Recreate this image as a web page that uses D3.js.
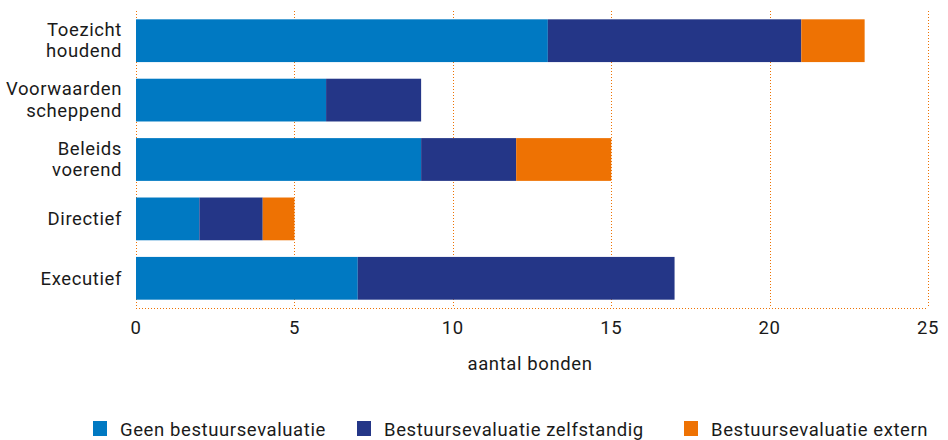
<!DOCTYPE html>
<html>
<head>
<meta charset="utf-8">
<script src="https://cdn.jsdelivr.net/npm/d3@7"></script>
<style>
  body { margin: 0; background: #fff; }
  text { font-family: "Roboto", "Liberation Sans", sans-serif; fill: #1a1a1a; letter-spacing: 0.6px; }
</style>
</head>
<body>
<svg id="chart" width="948" height="440"></svg>
<script>
'use strict'

const categories = ["Toezicht houdend", "Voorwaarden scheppend", "Beleids voerend", "Directief", "Executief"]
const categoryLines = [["Toezicht","houdend"], ["Voorwaarden","scheppend"], ["Beleids","voerend"], ["Directief"], ["Executief"]]
const seriesNames = ["Geen bestuursevaluatie", "Bestuursevaluatie zelfstandig", "Bestuursevaluatie extern"]
const geen = [13, 6, 9, 2, 7]
const zelfstandig = [8, 3, 3, 2, 10]
const extern = [2, 0, 3, 1, 0]
const xTicks = [0, 5, 10, 15, 20, 25]
const axisTitle = "aantal bonden"

const colors = ["#0079c2", "#243687", "#ee7203"]
const fontSize = 18.5

const svg = d3.select("#chart")
const margin = {top: 11, left: 136}
const plotBottom = 308
const plotRight = 928

const x = d3.scaleLinear().domain([0, 25]).range([margin.left, plotRight])
const y = d3.scaleBand().domain(categories).range([margin.top, plotBottom])
  .paddingInner(0.28).paddingOuter(0.14)

const table = categories.map((c, i) => ({cat: c, [seriesNames[0]]: geen[i], [seriesNames[1]]: zelfstandig[i], [seriesNames[2]]: extern[i]}))
const stacked = d3.stack().keys(seriesNames)(table)

// gridlines
const grid = svg.append("g").attr("class", "grid")
grid.selectAll("line.v").data(xTicks).join("line")
  .attr("class", "v")
  .attr("x1", d => Math.round(x(d)) + 0.5).attr("x2", d => Math.round(x(d)) + 0.5)
  .attr("y1", margin.top).attr("y2", plotBottom)
  .attr("stroke", "#ee7203").attr("stroke-width", 1).attr("stroke-dasharray", "1,2")
grid.append("line")
  .attr("x1", x(0)).attr("x2", x(25))
  .attr("y1", plotBottom + 0.5).attr("y2", plotBottom + 0.5)
  .attr("stroke", "#ee7203").attr("stroke-width", 1).attr("stroke-dasharray", "1,2")

// bars
svg.append("g").selectAll("g").data(stacked).join("g")
  .attr("fill", (d, i) => colors[i])
  .selectAll("rect").data(d => d).join("rect")
  .attr("x", d => x(d[0]))
  .attr("y", d => y(d.data.cat))
  .attr("width", d => x(d[1]) - x(d[0]))
  .attr("height", y.bandwidth())

// y labels
const yl = svg.append("g").selectAll("text").data(categories).join("text")
  .attr("text-anchor", "end")
  .attr("font-size", fontSize)
  .attr("x", 122)
  .attr("y", d => y(d) + y.bandwidth() / 2)
yl.each(function(d, i){
  const lines = categoryLines[i]
  const t = d3.select(this)
  lines.forEach((l, j) => {
    t.append("tspan").attr("x", 122)
      .attr("dy", j === 0 ? (lines.length === 1 ? "0.35em" : "-0.25em") : "1.15em")
      .text(l)
  })
})

// x axis labels
svg.append("g").selectAll("text").data(xTicks).join("text")
  .attr("x", d => x(d)).attr("y", 334)
  .attr("text-anchor", "middle").attr("font-size", fontSize)
  .text(d => d)

svg.append("text")
  .attr("x", x(12.5) - 2).attr("y", 370)
  .attr("text-anchor", "middle").attr("font-size", fontSize)
  .text(axisTitle)

// legend
const legendX = [93, 357, 684]
const lg = svg.append("g").selectAll("g").data(seriesNames).join("g")
  .attr("transform", (d, i) => `translate(${legendX[i]},421)`)
lg.append("rect").attr("width", 14).attr("height", 15).attr("fill", (d, i) => colors[i])
lg.append("text").attr("x", 27).attr("y", 15).attr("font-size", fontSize).text(d => d)
</script>
</body>
</html>
